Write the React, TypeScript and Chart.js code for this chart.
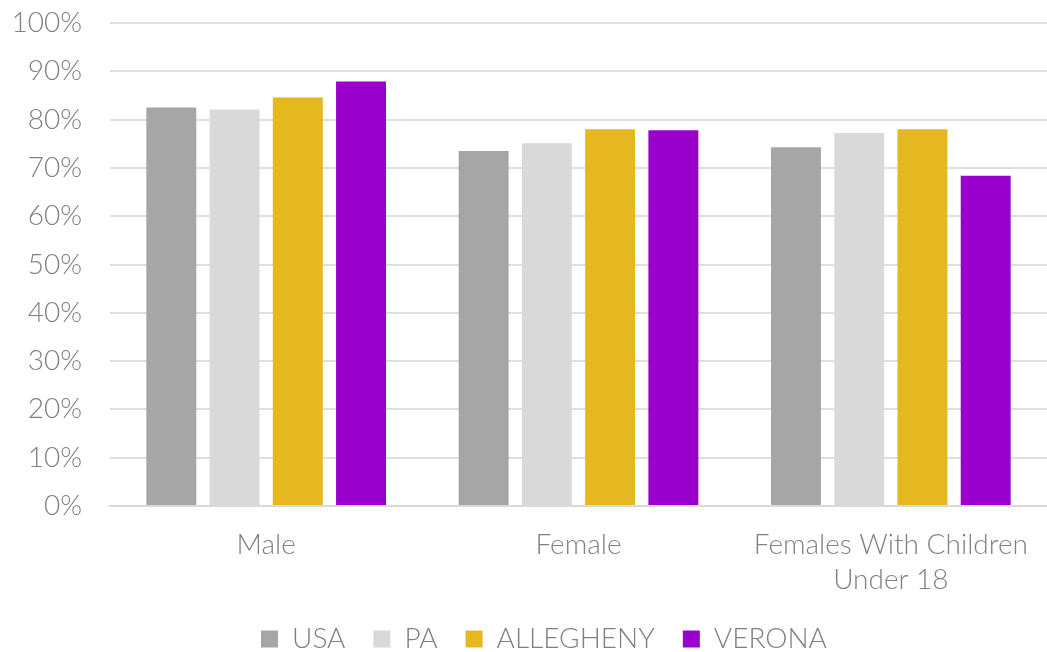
import React, { useEffect, useRef } from "react";
import { Chart, registerables } from "chart.js";

Chart.register(...registerables);

const categories: (string | string[])[] = ["Male", "Female", ["Females With Children", "Under 18"]];
const seriesNames = ["USA", "PA", "ALLEGHENY", "VERONA"];
const seriesColors = ["#a6a6a6", "#d9d9d9", "#e4b81e", "#9900cc"];
const usaValues = [82.5, 73.5, 74.3];
const paValues = [82.1, 75.1, 77.2];
const alleghenyValues = [84.6, 78.0, 78.0];
const veronaValues = [87.9, 77.8, 68.4];
const yTicks = [0, 10, 20, 30, 40, 50, 60, 70, 80, 90, 100];

const FONT = "Lato, 'Open Sans', sans-serif";

const shiftLegend = {
  id: "shiftLegend",
  afterLayout(chart: any) {
    if (chart.legend) {
      chart.legend.left += 18;
      chart.legend.right += 18;
    }
  },
};

export default function App() {
  const ref = useRef<HTMLCanvasElement | null>(null);
  useEffect(() => {
    document.body.style.margin = "0";
    const values = [usaValues, paValues, alleghenyValues, veronaValues];
    const chart = new Chart(ref.current!, {
      type: "bar",
      data: {
        labels: categories,
        datasets: seriesNames.map((n, i) => ({
          label: n,
          data: values[i],
          backgroundColor: seriesColors[i],
          borderWidth: 0,
          barPercentage: 0.79,
          categoryPercentage: 0.81,
        })),
      },
      plugins: [shiftLegend],
      options: {
        animation: false,
        responsive: false,
        maintainAspectRatio: false,
        layout: { padding: { top: 0, right: -5, left: 0, bottom: -11 } },
        plugins: {
          tooltip: { enabled: false },
          legend: {
            position: "bottom",
            labels: {
              color: "#808080",
              font: { family: FONT, size: 28, weight: 300 as any },
              boxWidth: 17,
              boxHeight: 17,
              padding: 28,
            },
          },
        },
        scales: {
          x: {
            grid: { display: false },
            border: { display: true, color: "#d9d9d9", width: 2 },
            afterFit: (axis: any) => {
              axis.height -= 13;
            },
            ticks: {
              color: "#808080",
              font: { family: FONT, size: 28, weight: 300 as any, lineHeight: 1.25 },
              padding: 13,
              maxRotation: 0,
              autoSkip: false,
            },
          },
          y: {
            min: 0,
            max: 100,
            afterBuildTicks: (axis: any) => {
              axis.ticks = yTicks.map((v) => ({ value: v }));
            },
            afterFit: (axis: any) => {
              axis.width = 110;
              axis.paddingTop = 23;
              axis.paddingBottom = 17;
            },
            grid: { color: "#dedede", lineWidth: 2, drawTicks: false },
            border: { display: false },
            ticks: {
              color: "#808080",
              font: { family: FONT, size: 28, weight: 300 as any },
              padding: 28,
              callback: (v: any) => v + "%",
            },
          },
        },
      },
    });
    return () => chart.destroy();
  }, []);
  return (
    <div style={{ width: 1047, height: 652 }}>
      <canvas ref={ref} width={1047} height={652} style={{ display: "block" }} />
    </div>
  );
}
